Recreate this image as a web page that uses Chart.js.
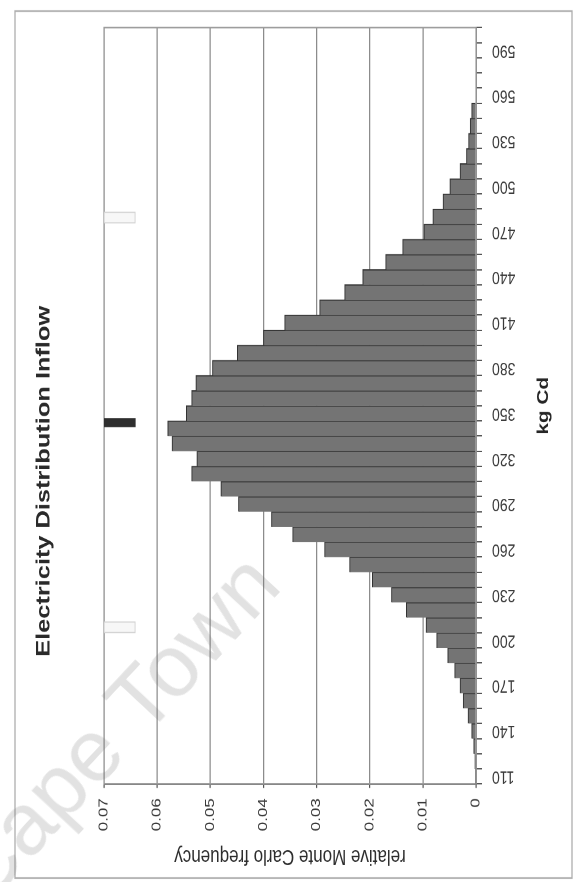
<!DOCTYPE html>
<html>
<head>
<meta charset="utf-8">
<script src="https://cdn.jsdelivr.net/npm/chart.js@4/dist/chart.umd.min.js"></script>
<style>
  html, body { margin: 0; padding: 0; background: #fff; }
  #page { position: relative; width: 580px; height: 882px; overflow: hidden; background: #fff; }
  /* the chart is laid out landscape, widened a little, then turned a quarter turn */
  #wrap { position: absolute; left: 0; top: 0; width: 678px; height: 580px;
          transform-origin: 0 0; transform: matrix(0, -1.30088, 1, 0, 0, 882); }
  #wm { position: absolute; left: -16px; top: 908px; white-space: nowrap;
        font: 88px "Liberation Sans", Arial, sans-serif; line-height: 1;
        color: rgba(110,110,110,0.2); transform-origin: 0 0;
        transform: rotate(-47deg) translateY(-0.83em); pointer-events: none; }
</style>
</head>
<body>
<div id="page">
  <div id="wrap"><canvas id="c" width="678" height="580" style="width:678px;height:580px"></canvas></div>
  <div id="wm">Cape Town</div>
</div>
<script>
// kg Cd classes (10 kg wide)
const kgBins = [110,120,130,140,150,160,170,180,190,200,
                210,220,230,240,250,260,270,280,290,300,
                310,320,330,340,350,360,370,380,390,400,
                410,420,430,440,450,460,470,480,490,500,
                510,520,530,540,550,560,570,580,590,600];
// relative Monte Carlo frequency per class
const relFreq = [0.0001,0.0002,0.0004,0.0008,0.0015,0.0024,0.0030,0.0040,0.0053,0.0074,
                 0.0094,0.0131,0.0159,0.0195,0.0238,0.0285,0.0345,0.0385,0.0447,0.0480,
                 0.0535,0.0525,0.0572,0.0580,0.0545,0.0535,0.0527,0.0496,0.0449,0.0400,
                 0.0360,0.0294,0.0247,0.0213,0.0170,0.0138,0.0098,0.0081,0.0062,0.0049,
                 0.0030,0.0018,0.0014,0.0011,0.0008,0,0,0,0,0];
// classes that carry a label on the kg axis
const kgTickLabels = ['110','140','170','200','230','260','290','320','350',
                      '380','410','440','470','500','530','560','590'];
// frequency axis ticks
const freqTicks = [0, 0.01, 0.02, 0.03, 0.04, 0.05, 0.06, 0.07];
// marks near the top of the plot: low / central / high kg Cd
const lowHighKg = [208.6, 479.4];
const centralKg = [343.8];
const markSpan = [0.0641, 0.07];

const chartTitle = 'Electricity Distribution Inflow';

const framePlugin = {
  id: 'frame',
  beforeDraw(chart) {
    const ctx = chart.ctx;
    ctx.save();
    ctx.fillStyle = '#fff';
    ctx.fillRect(0, 0, chart.width, chart.height);
    ctx.strokeStyle = '#adadad';
    ctx.lineWidth = 1.3;
    ctx.strokeRect(3.1, 15, 666.4, 557);
    ctx.fillStyle = '#2a2a2a';
    ctx.font = 'bold 19.5px "Liberation Sans", Arial, sans-serif';
    ctx.textAlign = 'center';
    ctx.textBaseline = 'middle';
    ctx.fillText(chartTitle, 308, 44);
    ctx.restore();
  },
  beforeDatasetsDraw(chart) {
    const a = chart.chartArea, ctx = chart.ctx;
    ctx.save();
    ctx.strokeStyle = '#9a9a9a';
    ctx.lineWidth = 1.2;
    ctx.strokeRect(a.left, a.top, a.right - a.left, a.bottom - a.top);
    ctx.restore();
  }
};

new Chart(document.getElementById('c'), {
  type: 'bar',
  data: {
    labels: kgBins.map(String),
    datasets: [
      {
        data: relFreq,
        xAxisID: 'x', yAxisID: 'y',
        backgroundColor: '#747474',
        borderColor: '#333333',
        borderWidth: { top: 1, right: 1, left: 0, bottom: 0 },
        borderSkipped: false,
        grouped: false,
        categoryPercentage: 1, barPercentage: 1,
        order: 2
      },
      {
        data: centralKg.map(k => ({ x: k, y: markSpan })),
        xAxisID: 'xv', yAxisID: 'y',
        backgroundColor: '#2e2e2e', borderColor: '#2e2e2e', borderWidth: 0,
        barThickness: 6.2, grouped: false, order: 1
      },
      {
        data: lowHighKg.map(k => ({ x: k, y: markSpan })),
        xAxisID: 'xv', yAxisID: 'y',
        backgroundColor: '#f7f7f7', borderColor: '#d2d2d2', borderWidth: 1,
        borderSkipped: false,
        barThickness: 8.5, grouped: false, order: 1
      }
    ]
  },
  options: {
    responsive: false,
    animation: false,
    devicePixelRatio: 2,
    layout: { padding: { left: 0, right: 18.5, top: 104, bottom: 0 } },
    plugins: { legend: { display: false }, tooltip: { enabled: false }, title: { display: false } },
    scales: {
      x: {
        type: 'category',
        offset: true,
        afterFit: s => { s.height = 104; },
        grid: { offset: true, drawOnChartArea: false, drawTicks: true, tickLength: 6, color: '#555', lineWidth: 1 },
        border: { display: true, color: '#4a4a4a', width: 1.2 },
        ticks: {
          autoSkip: false, minRotation: 90, maxRotation: 90, padding: 10,
          color: '#3a3a3a',
          font: { family: '"Liberation Sans", Arial, sans-serif', size: 14 },
          callback: function (v, i) {
            const lab = String(kgBins[i]);
            return kgTickLabels.includes(lab) ? lab : '';
          }
        },
        title: {
          display: true, text: 'kg Cd', color: '#262626',
          font: { family: '"Liberation Sans", Arial, sans-serif', size: 16, weight: 'bold' },
          padding: { top: 0, bottom: 27 }
        }
      },
      xv: { type: 'linear', display: false, min: 105, max: 605, offset: false },
      y: {
        type: 'linear', min: 0, max: 0.07,
        afterFit: s => { s.width = 75.3; },
        afterBuildTicks: s => { s.ticks = freqTicks.map(v => ({ value: v })); },
        grid: { color: '#8c8c8c', lineWidth: 1.2, drawTicks: true, tickLength: 3, tickColor: '#555' },
        border: { display: true, color: '#4a4a4a', width: 1.2 },
        ticks: {
          padding: 8, color: '#3a3a3a',
          font: { family: '"Liberation Sans", Arial, sans-serif', size: 13 },
          callback: v => (v === 0 ? '0' : Number(v).toFixed(2))
        },
        title: {
          display: true, text: 'relative Monte Carlo frequency', color: '#2e2e2e',
          font: { family: '"Liberation Sans", Arial, sans-serif', size: 17 },
          padding: { top: 9.8, bottom: 0 }
        }
      }
    }
  },
  plugins: [framePlugin]
});
</script>
</body>
</html>
